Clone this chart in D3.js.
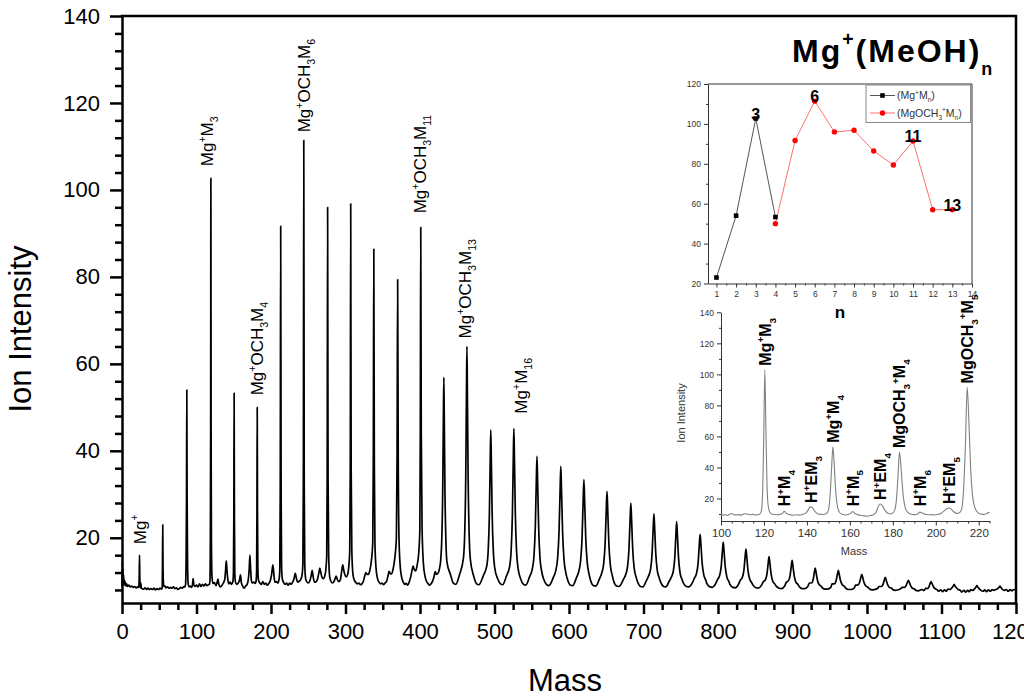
<!DOCTYPE html>
<html>
<head>
<meta charset="utf-8">
<script src="https://cdn.jsdelivr.net/npm/d3@7"></script>
<style>
  body { margin: 0; background: #fff; }
  svg { font-family: "Liberation Sans", Arial, sans-serif; }
</style>
</head>
<body>
<svg id="chart" width="1024" height="699"></svg>
<script>
// ---- Data ----
// Main mass spectrum, [mass, ion intensity]
let mainSpectrum = [
  [0,8.8],[0.4,14.5],[0.9,9.6],[1.3,12.8],[1.8,9.4],[2.2,11.4],[2.7,9.2],[3.2,10.3],[3.8,9.1],[4.5,9.8],[5.3,8.9],[6.2,9.4],[7.5,8.8],[9,9.1],[11,8.7],[13,8.9],[15,8.6],[17,8.8],[19,8.5],[21,8.7],[22.6,8.6],
  [23.1,11],[23.5,16],[23.9,11],[24.5,8.5],[25.3,9.6],[26,8.4],[27,8.3],[29,8.2],[31,8.5],[33,8.1],[35,8.4],[37,8.1],[39,8.3],[41,8.1],[43,8.4],[45,8.0],[47,8.3],[49,8.1],[51,8.4],[53,8.2],
  [53.9,8.5],[54.3,13],[54.7,23],[55.1,13],[55.6,9.6],[56.3,8.8],[57.5,8.9],[59,8.5],[61,8.7],[63,8.4],[65,8.6],[67,8.4],[69,8.7],[71,8.3],[73,8.5],[75,8.1],[77,8.3],[79,8.6],[81,8.4],[83,8.8],[84.5,8.7],
  [85.3,9.2],[86.1,16],[86.6,30],[87,54],[87.4,30],[87.9,16],[88.7,9.6],[90,8.7],[91.5,8.9],[93,8.6],[94.5,9.1],[95.5,10.6],[96.5,9.1],[98,8.8],[100,9.1],[102,8.7],[104,9.4],[106,8.8],[108,9.3],[110,8.9],[112,9.4],[114,9],[116,9.2],[117.3,9.3],
  [118,10],[118.6,20],[119,45],[119.3,102.7],[119.6,45],[120,20],[120.8,11],[122,9.5],[124,9.7],[126,9],[127.5,9.6],[128.8,10.5],[130,9.3],[132,8.7],[134,9],[136,9.6],[138,10.5],[139,12.5],[140,14.7],[141,12.3],[142.2,10.2],[143.5,9.4],[145,9.8],[147,9.3],[148.8,9.9],
  [149.6,12],[150.1,25],[150.5,53.3],[150.9,25],[151.4,12],[152.3,9.8],[154,9.3],[156,9.6],[157.8,10.3],[159,11.5],[160.3,9.6],[162,8.9],[164,8.4],[166,8.9],[168,9.3],[169.6,10.5],[170.8,13],[171.7,16],[172.6,13],[173.8,10],[175,9.6],[177,9.8],[179,9.5],[180.1,10.2],
  [180.7,12.5],[181.1,25],[181.5,50],[181.9,25],[182.4,12.5],[183.3,10.2],[185,9.6],[187,9.3],[189,9.9],[191,9.3],[193,9.6],[195,9.1],[197,9.5],[199,10.1],[200.8,11.5],[202.5,13.8],[203.9,11.5],[205.2,9.8],[207,9.9],[209,9.6],[210.8,10.4],[211.8,12.5],
  [212.4,30],[213,91.7],[213.6,30],[214.2,13.5],[215.3,10.4],[217,9.7],[219,9.3],[221,9.6],[223,9.1],[225,9.6],[227,9.3],[229,9.8],[230.8,10.5],[232.6,11.8],[234.2,10.6],[235.8,9.8],[237.8,10],[239.8,10.4],[241.6,11.3],[242.8,14],
  [243.4,32],[244,111.4],[244.6,32],[245.3,14],[246.5,10.6],[248,9.9],[250,9.6],[252,10],[253.8,11.2],[255.3,12.5],[256.8,10.8],[258.5,9.8],[260.5,9.9],[262.5,10.5],[264.3,12],[265.5,13],[266.7,12.2],[268.3,11],[270.3,10.6],[272.3,11.3],[273.8,13],[274.8,16],
  [275.4,34],[276,96],[276.6,34],[277.4,16],[278.8,11],[280.5,10],[282.5,9.6],[284.5,9.9],[286,10.6],[287.5,11.2],[289,10.4],[291,9.9],[293,10.3],[294.8,12.2],[296.3,13.8],[297.6,12.6],[299.2,11.5],[301,11],[303,11.6],[304.7,14],[305.7,17],
  [306.4,36],[307,96.8],[307.6,36],[308.5,17],[310,11.6],[312,10.2],[314,9.7],[316,9.4],[318,9.6],[320,9.2],[322,9.4],[324,10],[325.8,11.2],[327.3,12],[328.8,11.6],[330.8,11.6],[332.8,12.6],[334.8,14.8],[336.6,19],
  [337.3,37],[338,86.4],[338.7,37],[339.5,19],[341,13],[343,10.6],[345,9.8],[347,9.4],[349,9.6],[351,9.2],[353,9.6],[355,9.9],[357,11.2],[358.5,12.3],[360,11.8],[362,11.7],[364,12.9],[366.3,15.5],[368.3,20],
  [369.2,38],[370,79.4],[370.8,38],[371.8,20],[373.5,13.3],[375.5,10.8],[377.5,9.8],[379.5,9.3],[381.5,9.5],[383.5,9.1],[385.5,9.8],[387.5,11],[389.3,12.5],[390.8,13.5],[392.3,12.7],[394.3,12.4],[396.3,13.8],[398.3,16.5],[399.8,22],
  [400.4,44],[401,91.4],[401.7,44],[402.8,22],[404.6,14],[406.7,11.2],[408.7,10],[410.7,9.5],[412.7,9.1],[414.7,9.4],[416.7,9.9],[418.7,11],[420.5,12.2],[422,11.6],[424,11.8],[426,12.8],[427.8,14.9],[429.3,20.1],[430.5,30.7],[431.4,47.4],
  [432,56.9],[432.6,47.4],[433.5,30.7],[434.7,19.8],[436.2,14.4],[441,11.5],[445,9.5],[448,9.3],[453,11.5],[458.4,15.5],[460.1,21.6],[461.4,33.9],[462.35,53],
  [463,64],[463.65,53],[464.6,33.9],[465.9,21.3],[467.6,15],[472,11.2],[476,9.4],[479,9.2],[485,11.3],[489.7,13.6],[491.6,17.3],[493.1,25.2],[494.25,37.7],
  [495,44.8],[495.75,37.7],[496.9,25.2],[498.4,17.1],[500.3,13.1],[504,10.7],[508,9.4],[511,9.2],[516,11.2],[520.4,13.5],[522.4,17.3],[524,25.3],[525.2,37.9],
  [526,45.1],[526.8,37.9],[528,25.3],[529.6,17],[531.6,13],[535,10.6],[539,9.3],[542,9.1],[547,11],[550.7,12.8],[553,15.8],[554.75,22.4],[556.1,32.8],
  [557,38.7],[557.9,32.8],[559.25,22.4],[561,15.5],[563.3,12.3],[566,10.5],[570,9.2],[573,9],[579,10.9],[582.3,12.5],[584.7,15.3],[586.6,21.3],[588.05,30.9],
  [589,36.4],[589.95,30.9],[591.4,21.3],[593.3,15],[595.7,12],[598,10.4],[602,9.1],[605,9],[610,10.8],[613,12.2],[615.5,14.6],[617.5,19.9],[619,28.5],
  [620,33.4],[621,28.5],[622.5,19.9],[624.5,14.3],[627,11.6],[629,10.2],[633,9],[636,8.9],[641,10.6],[644,11.9],[646.5,14],[648.5,18.7],[650,26.3],
  [651,30.7],[652,26.3],[653.5,18.7],[655.5,13.7],[658,11.4],[660,10],[664,8.9],[667,8.8],[673,10.4],[676,11.5],[678.5,13.3],[680.5,17.4],[682,24.2],
  [683,28],[684,24.2],[685.5,17.4],[687.5,13],[690,11],[692,9.9],[696,8.8],[699,8.7],[704,10.2],[707,11.3],[709.5,12.8],[711.5,16.3],[713,22.2],
  [714,25.5],[715,22.2],[716.5,16.3],[718.5,12.5],[721,10.8],[723,9.8],[727,8.8],[730,8.7],[734.5,10],[737.5,11],[740,12.3],[742,15.5],[743.5,20.7],
  [744.5,23.7],[745.5,20.7],[747,15.5],[749,12],[751.5,10.5],[753.5,9.6],[757.5,8.8],[760.5,8.7],[766,9.8],[768.3,10.7],[771,11.7],[773.25,14.1],[774.9,18.4],
  [776,20.8],[777.1,18.4],[778.75,14.1],[781,11.4],[783.7,10.2],[785,9.5],[789,8.7],[792,8.6],[797,9.5],[799.3,10.4],[802,11.2],[804.25,13.3],[805.9,16.9],
  [807,19],[808.1,16.9],[809.75,13.3],[812,10.9],[814.7,9.9],[816,9.3],[820,8.6],[823,8.5],[827.5,9.3],[829.8,10.2],[832.5,10.8],[834.75,12.5],[836.4,15.6],
  [837.5,17.4],[838.6,15.6],[840.25,12.5],[842.5,10.5],[845.2,9.7],[847,9.1],[851,8.5],[854,8.4],[858.5,9.1],[860.8,9.9],[863.5,10.3],[865.75,11.7],[867.4,14.2],
  [868.5,15.7],[869.6,14.2],[871.25,11.7],[873.5,10],[876.2,9.4],[878,8.9],[882,8.4],[885,8.3],[889.5,8.9],[891.8,9.8],[894.5,10.1],[896.75,11.3],[898.4,13.5],
  [899.5,14.8],[900.6,13.5],[902.25,11.3],[904.5,9.8],[907.2,9.3],[909,8.8],[913,8.3],[916,8.3],[920.5,8.8],[922.8,9.6],[925.5,9.6],[927.75,10.4],[929.4,12.1],
  [930.5,13],[931.6,12.1],[933.25,10.4],[935.5,9.3],[938.2,8.9],[940,8.5],[944,8.2],[947,8.2],[951.5,8.6],[953.1,9.4],[956.1,9.4],[958.5,10.1],[960.3,11.6],
  [961.5,12.5],[962.7,11.6],[964.5,10.1],[966.9,9.2],[969.9,8.8],[971.5,8.4],[975,8.1],[978,8.1],[983,8.5],[984.6,9.1],[987.6,9.1],[990,9.7],[991.8,10.9],
  [993,11.6],[994.2,10.9],[996,9.7],[998.4,8.9],[1001.4,8.6],[1003,8.3],[1007,8],[1010,8.1],[1014.5,8.4],[1016.1,8.8],[1019.1,8.8],[1021.5,9.3],[1023.3,10.3],
  [1024.5,10.9],[1025.7,10.3],[1027.5,9.3],[1029.9,8.6],[1032.9,8.4],[1034.5,8.1],[1038,7.9],[1041,8],[1045.5,8.3],[1047.1,8.6],[1050.1,8.6],[1052.5,9],[1054.3,9.8],
  [1055.5,10.2],[1056.7,9.8],[1058.5,9],[1060.9,8.4],[1063.9,8.2],[1065.5,7.9],[1069,7.8],[1072,8],[1074,8.1],[1076.5,7.9],[1079,8.4],[1081.5,8.3],[1083.3,8.8],[1084.8,9.5],
  [1086,9.9],[1087.2,9.5],[1089,8.8],[1091.4,8.3],[1094.4,8],[1096,7.7],[1099,8],[1101.5,7.6],[1104,8],[1106.5,7.7],[1108.6,8.2],[1111.6,8.1],[1114,8.5],[1115.8,8.9],
  [1117,9.3],[1118.2,8.9],[1120,8.5],[1122.4,8.1],[1125.4,7.9],[1127,7.5],[1130,7.9],[1132.5,7.5],[1135,7.9],[1137.5,7.6],[1139.1,8.1],[1142.1,7.9],[1144.5,8.3],[1146.3,8.7],
  [1147.5,9],[1148.7,8.7],[1150.5,8.3],[1152.9,7.9],[1155.9,7.7],[1158,8],[1160.5,7.6],[1163,8],[1165.5,7.7],[1168,8.1],[1170.1,7.9],[1173.1,8.1],[1175.5,8.3],[1177.3,8.6],
  [1178.5,8.9],[1179.7,8.6],[1181.5,8.2],[1183.9,7.9],[1186.9,8.1],[1189.5,7.7],[1192,8.1],[1194.5,7.8],[1197,8.1],[1200,7.9]
];

// Labelled peaks of the main spectrum
let mainLabelText = ['Mg^+', 'Mg^+M_3', 'Mg^+OCH_3M_4', 'Mg^+OCH_3M_6', 'Mg^+OCH_3M_11', 'Mg^+OCH_3M_13', 'Mg^+M_16'];
let mainLabelMass = [23.5, 119.3, 181.5, 244, 401, 463, 526];
let mainLabelHeight = [16, 102.7, 50, 111.4, 91.4, 64, 45.1];

// Main axis ticks
let mainXTicks = [0, 100, 200, 300, 400, 500, 600, 700, 800, 900, 1000, 1100, 1200];
let mainYTicks = [20, 40, 60, 80, 100, 120, 140];

// Inset 1: peak intensity vs cluster size n
let nMg = [1, 2, 3, 4];
let intMg = [23, 54, 102.7, 53.3];
let nOch3 = [4, 5, 6, 7, 8, 9, 10, 11, 12, 13];
let intOch3 = [50, 91.7, 111.4, 96, 96.8, 86.4, 79.4, 91.4, 57, 57];
let magicN = [3, 6, 11, 13];
let magicInt = [102.7, 111.4, 91.4, 57];
let nXTicks = [1, 2, 3, 4, 5, 6, 7, 8, 9, 10, 11, 12, 13, 14];
let nYTicks = [20, 40, 60, 80, 100, 120];
let legendText = ['(Mg^+M_n)', '(MgOCH_3^+M_n)'];

// Inset 2: expanded spectrum 100-225
let zoomSpectrum = [
  [100,9.6],[101,9.3],[102,9.5],[103,9.2],[104,9.8],[105,10.3],[106,9.6],[107,9.4],[108,9.6],[109,9.3],[110,9.6],[111,10.2],[112,10],[113,9.7],[114,9.5],[115,9.8],[116,9.4],[117,9.6],[118,9.9],
  [118.8,12],[119.4,25],[119.9,60],[120.4,103],[120.9,65],[121.4,30],[122,15],[122.8,11],[124,9.8],[125.5,9.5],[127,9.6],[128.5,10.3],[129.5,11.8],[130.5,10.3],[132,9.6],[133.5,9.2],[135,9.5],[136.5,9.3],[138,9.8],
  [139.5,10.6],[140.5,12.5],[141.5,14.6],[142.5,14.2],[143.5,12],[144.8,10.3],[146,9.8],[147.5,9.7],[149,10.2],[150,12.5],[150.8,22],[151.5,40],[152.1,53.3],[152.7,42],[153.4,25],[154.2,15],[155.2,11],[156.5,9.8],
  [158,9.4],[159.5,9.8],[160.5,10.6],[161.3,11.6],[162.2,10.5],[163.5,9.6],[165,9.2],[166.5,8.8],[168,8.6],[169.5,9],[171,9.5],[172.3,11.5],[173.4,15.5],[174.2,16.5],[175.2,15.2],[176.3,12.5],[177.5,10.6],[179,10],
  [180.5,11.5],[181.5,17],[182.3,32],[183.1,49.9],[183.9,38],[184.8,22],[185.8,14],[187,11],[188.5,9.8],[190,9.6],[191.5,9.9],[192.6,11.2],[193.7,10.6],[195,9.8],[196.5,9.5],[198,9.6],[199.5,9.4],[201,9.7],
  [202.5,10.5],[204,12.2],[205.3,13.6],[206.3,13.9],[207.3,13],[208.5,11.3],[209.8,10.4],[211,10.8],[212,13],[212.9,25],[213.8,55],[214.6,91.6],[215.4,70],[216.2,40],[217.1,22],[218,15],[219.2,11.5],[220.5,10.2],
  [222,9.8],[223.5,10.2],[224.5,10.9],[225,11]
];
let zoomLabelText = ['Mg^+M_3', 'H^+M_4', 'H^+EM_3', 'Mg^+M_4', 'H^+M_5', 'H^+EM_4', 'MgOCH_3^+M_4', 'H^+M_6', 'H^+EM_5', 'MgOCH_3^+M_5'];
let zoomLabelMass = [120.4, 129.5, 141.8, 152.1, 161.3, 174.2, 183.1, 192.6, 206.3, 214.6];
let zoomLabelHeight = [103, 11.8, 14.6, 53.3, 11.6, 16.5, 49.9, 11.2, 13.9, 91.6];
let zoomXTicks = [100, 120, 140, 160, 180, 200, 220];
let zoomYTicks = [20, 40, 60, 80, 100, 120, 140];

// ---- Helpers ----
// "Mg^+OCH_3M_6" -> tspans with super/subscripts
function richText(el, str, size, supShift = 0.42, subShift = 0.3, small = 0.62) {
  let re = /(\^|_)(\+|\d+|n)|([^\^_]+)/g, m, shift = 0;
  while ((m = re.exec(str)) !== null) {
    let t = m[3], s = size, target = 0;
    if (m[1]) {
      t = m[2];
      s = size * small;
      target = m[1] === '^' ? -supShift * size : subShift * size;
    }
    el.append('tspan')
      .attr('font-size', s)
      .attr('dy', target - shift)
      .text(t);
    shift = target;
  }
  return el;
}

function styleAxis(g, color, width, fontSize) {
  g.attr('font-family', null).attr('font-size', fontSize);
  g.selectAll('path, line').attr('stroke', color).attr('stroke-width', width);
  g.selectAll('text').attr('fill', color);
}

let svg = d3.select('#chart');

// ---- Main chart ----
let x = d3.scaleLinear().domain([0, 1200]).range([122, 1016]);
let y = d3.scaleLinear().domain([5, 140]).range([603, 16]);

let line = d3.line()
  .x(d => x(d[0]))
  .y(d => y(d[1]))
  .curve(d3.curveMonotoneX);

svg.append('path')
  .datum(mainSpectrum)
  .attr('fill', 'none')
  .attr('stroke', '#000')
  .attr('stroke-width', 1.7)
  .attr('stroke-linejoin', 'round')
  .attr('d', line);

// minor ticks
svg.append('g')
  .attr('transform', 'translate(0,603)')
  .call(d3.axisBottom(x).tickValues(d3.range(0, 1201, 25).filter(v => v % 100)).tickSize(7).tickFormat(''))
  .call(g => g.select('.domain').remove())
  .call(g => styleAxis(g, '#000', 2.5, 0));
svg.append('g')
  .attr('transform', 'translate(122,0)')
  .call(d3.axisLeft(y).tickValues(d3.range(8, 140, 4).filter(v => v % 20)).tickSize(7).tickFormat(''))
  .call(g => g.select('.domain').remove())
  .call(g => styleAxis(g, '#000', 2.5, 0));

// major ticks
svg.append('g')
  .attr('transform', 'translate(0,603)')
  .call(d3.axisBottom(x).tickValues(mainXTicks).tickFormat(d3.format('d')).tickSize(11).tickPadding(9).tickSizeOuter(0))
  .call(g => styleAxis(g, '#000', 2.5, 22));
svg.append('g')
  .attr('transform', 'translate(122,0)')
  .call(d3.axisLeft(y).tickValues(mainYTicks).tickSize(12).tickPadding(10).tickSizeOuter(0))
  .call(g => styleAxis(g, '#000', 2.5, 22));

// frame top + right
svg.append('path')
  .attr('d', `M${x(0)},${y(140)}H${x(1200)}V${y(5)}`)
  .attr('fill', 'none')
  .attr('stroke', '#000')
  .attr('stroke-width', 2.5)
  .attr('stroke-linecap', 'square');

// axis titles
svg.append('text')
  .attr('transform', 'translate(31,329) rotate(-90)')
  .attr('text-anchor', 'middle')
  .attr('font-size', 31)
  .text('Ion Intensity');
svg.append('text')
  .attr('x', 565)
  .attr('y', 691)
  .attr('text-anchor', 'middle')
  .attr('font-size', 31)
  .text('Mass');

// peak labels (vertical)
let mainNudge = [[6, -11], [2.5, -12], [6, -12], [6, -8], [5, -14], [4, -8], [13, -15]];
mainLabelText.forEach((t, i) => {
  let tx = x(mainLabelMass[i]) + mainNudge[i][0];
  let ty = y(mainLabelHeight[i]) + mainNudge[i][1];
  let el = svg.append('text')
    .attr('transform', `translate(${tx},${ty}) rotate(-90)`)
    .attr('font-size', 17);
  richText(el, t, 17);
});

// Chart Title
let title = svg.append('text')
  .attr('x', 792)
  .attr('y', 62)
  .attr('font-weight', 'bold')
  .attr('letter-spacing', 2);
title.append('tspan').attr('font-size', 32).text('Mg');
title.append('tspan').attr('font-size', 19.5).attr('dy', -16).text('+');
title.append('tspan').attr('font-size', 32).attr('dy', 16).text('(MeOH)');
title.append('tspan').attr('font-size', 18).attr('dy', 13).text('n');

// ---- Inset 1: intensity vs n ----
let xN = d3.scaleLinear().domain([0.57, 14]).range([708, 972]);
let yN = d3.scaleLinear().domain([20, 120]).range([283.5, 84]);
let ink = '#333';

svg.append('g')
  .attr('transform', `translate(0,${yN(20)})`)
  .call(d3.axisBottom(xN).tickValues(d3.range(1.5, 14, 1)).tickSize(2).tickFormat(''))
  .call(g => g.select('.domain').remove())
  .call(g => styleAxis(g, ink, 1, 0));
svg.append('g')
  .attr('transform', `translate(${xN(0.57)},0)`)
  .call(d3.axisLeft(yN).tickValues(d3.range(30, 120, 20)).tickSize(2).tickFormat(''))
  .call(g => g.select('.domain').remove())
  .call(g => styleAxis(g, ink, 1, 0));
svg.append('g')
  .attr('transform', `translate(0,${yN(20)})`)
  .call(d3.axisBottom(xN).tickValues(nXTicks).tickSize(4).tickPadding(3).tickSizeOuter(0))
  .call(g => styleAxis(g, ink, 1, 8.5));
svg.append('g')
  .attr('transform', `translate(${xN(0.57)},0)`)
  .call(d3.axisLeft(yN).tickValues(nYTicks).tickSize(4).tickPadding(3).tickSizeOuter(0))
  .call(g => styleAxis(g, ink, 1, 8.5));
svg.append('path')
  .attr('d', `M${xN(0.57)},${yN(120)}H${xN(14)}V${yN(20)}`)
  .attr('fill', 'none')
  .attr('stroke', ink)
  .attr('stroke-width', 1);

svg.append('text')
  .attr('x', 840)
  .attr('y', 318)
  .attr('text-anchor', 'middle')
  .attr('font-weight', 'bold')
  .attr('font-size', 17)
  .text('n');

let nLine = d3.line().x(d => xN(d[0])).y(d => yN(d[1]));
let mgPts = nMg.map((n, i) => [n, intMg[i]]);
let ochPts = nOch3.map((n, i) => [n, intOch3[i]]);

svg.append('path')
  .datum(mgPts)
  .attr('fill', 'none')
  .attr('stroke', '#555')
  .attr('stroke-width', 1)
  .attr('d', nLine);
svg.append('path')
  .datum(ochPts)
  .attr('fill', 'none')
  .attr('stroke', '#ff7070')
  .attr('stroke-width', 1)
  .attr('d', nLine);

svg.append('g')
  .selectAll('rect')
  .data(mgPts)
  .enter()
  .append('rect')
  .attr('x', d => xN(d[0]) - 2.3)
  .attr('y', d => yN(d[1]) - 2.3)
  .attr('width', 4.6)
  .attr('height', 4.6)
  .attr('fill', '#000');
svg.append('g')
  .selectAll('circle')
  .data(ochPts)
  .enter()
  .append('circle')
  .attr('cx', d => xN(d[0]))
  .attr('cy', d => yN(d[1]))
  .attr('r', 2.7)
  .attr('fill', '#ff0000');

svg.append('g')
  .selectAll('text')
  .data(magicN)
  .enter()
  .append('text')
  .attr('x', d => xN(d))
  .attr('y', (d, i) => yN(magicInt[i]) + 1)
  .attr('text-anchor', 'middle')
  .attr('font-weight', 'bold')
  .attr('font-size', 16)
  .text(d => d);

// Legend
let leg = svg.append('g').attr('transform', 'translate(866,85)');
leg.append('rect')
  .attr('width', 104.5)
  .attr('height', 37.5)
  .attr('fill', '#fff')
  .attr('stroke', '#888')
  .attr('stroke-width', 1);
legendText.forEach((t, i) => {
  let ly = 10.5 + i * 17.5;
  leg.append('line')
    .attr('x1', 4).attr('x2', 29).attr('y1', ly).attr('y2', ly)
    .attr('stroke', i ? '#ff7070' : '#555').attr('stroke-width', 1);
  if (i === 0) {
    leg.append('rect').attr('x', 14.2).attr('y', ly - 2.3).attr('width', 4.6).attr('height', 4.6).attr('fill', '#000');
  } else {
    leg.append('circle').attr('cx', 16.5).attr('cy', ly).attr('r', 2.7).attr('fill', '#ff0000');
  }
  let el = leg.append('text')
    .attr('x', 31)
    .attr('y', ly + 3.5)
    .attr('fill', ink)
    .attr('font-size', 10.5);
  richText(el, t, 10.5);
});

// ---- Inset 2: expanded spectrum ----
let xZ = d3.scaleLinear().domain([100, 225]).range([721, 989.5]);
let yZ = d3.scaleLinear().domain([5.5, 140]).range([521, 312.3]);

svg.append('g')
  .attr('transform', `translate(0,${yZ(5.5)})`)
  .call(d3.axisBottom(xZ).tickValues(d3.range(105, 226, 5).filter(v => v % 20)).tickSize(2.5).tickFormat(''))
  .call(g => g.select('.domain').remove())
  .call(g => styleAxis(g, ink, 1, 0));
svg.append('g')
  .attr('transform', `translate(${xZ(100)},0)`)
  .call(d3.axisLeft(yZ).tickValues(d3.range(10, 140, 20)).tickSize(2).tickFormat(''))
  .call(g => g.select('.domain').remove())
  .call(g => styleAxis(g, ink, 1, 0));
svg.append('g')
  .attr('transform', `translate(0,${yZ(5.5)})`)
  .call(d3.axisBottom(xZ).tickValues(zoomXTicks).tickSize(4.5).tickPadding(3).tickSizeOuter(0))
  .call(g => styleAxis(g, ink, 1, 11.5));
svg.append('g')
  .attr('transform', `translate(${xZ(100)},0)`)
  .call(d3.axisLeft(yZ).tickValues(zoomYTicks).tickSize(4).tickPadding(3).tickSizeOuter(0))
  .call(g => styleAxis(g, ink, 1, 8.5));

svg.append('path')
  .datum(zoomSpectrum)
  .attr('fill', 'none')
  .attr('stroke', '#808080')
  .attr('stroke-width', 1.1)
  .attr('d', d3.line().x(d => xZ(d[0])).y(d => yZ(d[1])).curve(d3.curveMonotoneX));

svg.append('text')
  .attr('transform', 'translate(685,413) rotate(-90)')
  .attr('text-anchor', 'middle')
  .attr('fill', ink)
  .attr('font-size', 11)
  .text('Ion Intensity');
svg.append('text')
  .attr('x', 854)
  .attr('y', 555)
  .attr('text-anchor', 'middle')
  .attr('fill', ink)
  .attr('font-size', 11)
  .text('Mass');

zoomLabelText.forEach((t, i) => {
  let tx = xZ(zoomLabelMass[i]) + 6;
  let ty = Math.min(yZ(zoomLabelHeight[i]) - 4, yZ(15));
  let el = svg.append('text')
    .attr('transform', `translate(${tx},${ty}) rotate(-90)`)
    .attr('font-weight', 'bold')
    .attr('font-size', 16);
  richText(el, t, 16);
});
</script>
</body>
</html>
